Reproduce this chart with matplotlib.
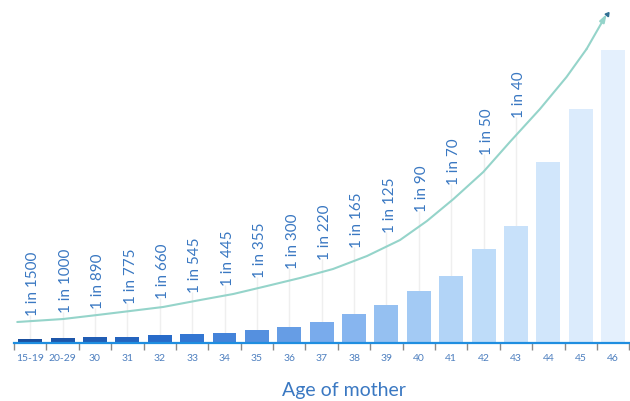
import numpy as np
import matplotlib
matplotlib.use("Agg")
import matplotlib.pyplot as plt
from matplotlib.colors import LinearSegmentedColormap

plt.rcParams['font.family'] = ['Lato', 'DejaVu Sans']

ages = ['15-19', '20-29', '30', '31', '32', '33', '34', '35', '36', '37',
        '38', '39', '40', '41', '42', '43', '44', '45', '46']
bar_values = [4, 5, 6, 6, 8, 9, 10, 13, 16, 21, 29, 38, 52, 67, 94, 117, 181, 234, 293]
risk_labels = ['1 in 1500', '1 in 1000', '1 in 890', '1 in 775', '1 in 660', '1 in 545',
               '1 in 445', '1 in 355', '1 in 300', '1 in 220', '1 in 165', '1 in 125',
               '1 in 90', '1 in 70', '1 in 50', '1 in 40']
curve_x = [-0.40, 1.02, 2.07, 3.09, 4.10, 5.25, 6.27, 7.31, 8.33, 9.35, 10.40, 11.42,
           12.25, 13.07, 13.99, 14.81, 15.74, 16.56, 17.18, 17.80]
curve_y = [21, 24, 28, 32, 36, 43, 49, 57, 65, 74, 87, 103,
           122, 144, 171, 201, 234, 266, 294, 329]
xlabel = 'Age of mother'

W, H = 630, 402
fig = plt.figure(figsize=(W / 100, H / 100), dpi=100)
ax = fig.add_axes([14 / W, (H - 344) / H, 616 / W, 344 / H])
ax.set_xlim(-0.49, 18.52)
ax.set_ylim(0, 344)

x = np.arange(len(ages))
cmap = LinearSegmentedColormap.from_list('b', ['#1a4f9e', '#2a6fcf', '#78abec', '#b9d9f8', '#e4f0fd'])
colors = [cmap(i / (len(ages) - 1)) for i in x]

# label positions derived from the curve
lab_y = [np.interp(i, curve_x, curve_y) + 6 + 0.8 * i for i in range(len(risk_labels))]

# faint vertical guide lines
for i in x:
    top = lab_y[i] if i < len(risk_labels) else bar_values[i]
    ax.vlines(i, 0, top, color='#efefef', lw=1, zorder=0)

ax.bar(x, bar_values, width=0.74, color=colors, zorder=2)

ax.plot(curve_x[:-1], curve_y[:-1], color='#95d4ca', lw=1.5, zorder=3,
        solid_capstyle='round', solid_joinstyle='round')
ax.annotate('', xy=(curve_x[-1], curve_y[-1]), xytext=(curve_x[-2], curve_y[-2]),
            arrowprops=dict(arrowstyle='-|>,head_length=0.45,head_width=0.15',
                            color='#95d4ca', lw=1.5, shrinkA=0, shrinkB=0), zorder=3)
ax.plot([curve_x[-1]], [curve_y[-1]], marker=(3, 0, -38), ms=3.5, color='#2f6f93', zorder=4)

for i, lab in enumerate(risk_labels):
    ax.text(i + 0.1, lab_y[i], lab, rotation=90, ha='center', va='bottom',
            fontsize=11, color='#3a78c2', zorder=5)

for s in ['top', 'right', 'left']:
    ax.spines[s].set_visible(False)
ax.spines['bottom'].set_color('#1f8ee0')
ax.spines['bottom'].set_linewidth(1.6)
ax.set_yticks([])
ax.set_xticks(x)
ax.set_xticklabels(ages, fontsize=7.5, color='#4d7fbf')
ax.tick_params(axis='x', which='major', length=0, pad=7)
ax.set_xticks(np.arange(-0.5, 18.6, 1), minor=True)
ax.tick_params(axis='x', which='minor', length=5, width=1, color='#8a8a8a', direction='out')
ax.set_xlabel(xlabel, fontsize=14, color='#3a78c2', labelpad=8)
ax.xaxis.set_label_coords((343.5 - 14) / 616, -0.11)

fig.savefig('out.png', dpi=100)
